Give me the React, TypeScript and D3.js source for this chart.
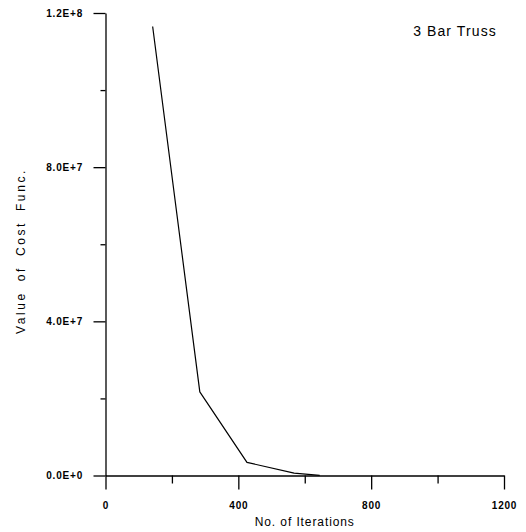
import React, { useEffect, useRef } from 'react';
import * as d3 from 'd3';

const iterations = [142, 284, 426, 568, 645];
const costValues = [1.165e8, 2.17e7, 3.4e6, 6e5, 5e4];

const xMajorTicks = [0, 400, 800, 1200];
const xMinorTicks = [200, 600, 1000];
const yMajorTicks = [0, 4e7, 8e7, 1.2e8];
const yMinorTicks = [2e7, 6e7, 1e8];
const yTickLabels = ['0.0E+0', '4.0E+7', '8.0E+7', '1.2E+8'];

const title = '3 Bar Truss';
const xTitle = 'No. of Iterations';
const yTitle = 'Value of Cost Func.';

const W = 526;
const H = 532;
const plot = { left: 105.5, right: 504, top: 13, bottom: 475.5 };

export default function App() {
  const ref = useRef<SVGSVGElement>(null);

  useEffect(() => {
    const svg = d3.select(ref.current);
    svg.selectAll('*').remove();

    const x = d3.scaleLinear().domain([0, 1200]).range([plot.left, plot.right]);
    const y = d3.scaleLinear().domain([0, 1.2e8]).range([plot.bottom, plot.top]);

    const tickFont = (g: any) =>
      g.selectAll('text')
        .attr('font-family', 'Arial, "Liberation Sans", sans-serif')
        .attr('font-size', 10)
        .attr('font-weight', 'bold')
        .attr('letter-spacing', 0.8)
        .attr('fill', '#000');

    // minor ticks first, no labels
    svg.append('g')
      .attr('transform', `translate(0,${plot.bottom})`)
      .call(d3.axisBottom(x).tickValues(xMinorTicks).tickSize(8).tickFormat(() => ''))
      .call((g: any) => g.select('.domain').remove());
    svg.append('g')
      .attr('transform', `translate(${plot.left},0)`)
      .call(d3.axisLeft(y).tickValues(yMinorTicks).tickSize(5).tickFormat(() => ''))
      .call((g: any) => g.select('.domain').remove());

    const xAxis = svg.append('g')
      .attr('transform', `translate(0,${plot.bottom})`)
      .call(d3.axisBottom(x).tickValues(xMajorTicks).tickSize(14).tickSizeOuter(0).tickPadding(12)
        .tickFormat((d: any) => String(d)));
    tickFont(xAxis);

    const yAxis = svg.append('g')
      .attr('transform', `translate(${plot.left},0)`)
      .call(d3.axisLeft(y).tickValues(yMajorTicks).tickSize(12).tickSizeOuter(0).tickPadding(10.5)
        .tickFormat((d: any, i: number) => yTickLabels[i]));
    tickFont(yAxis);

    svg.selectAll('.domain, .tick line')
      .attr('stroke', '#000')
      .attr('stroke-width', 1.3);

    const pts = iterations.map((it, i) => [it, costValues[i]] as [number, number]);
    const line = d3.line<[number, number]>()
      .x(d => x(d[0]))
      .y(d => y(d[1]));

    svg.append('path')
      .datum(pts)
      .attr('d', line)
      .attr('fill', 'none')
      .attr('stroke', '#000')
      .attr('stroke-width', 1.2)
      .attr('stroke-linejoin', 'round');

    svg.append('text')
      .attr('x', 455)
      .attr('y', 36)
      .attr('text-anchor', 'middle')
      .attr('font-family', 'Arial, "Liberation Sans", sans-serif')
      .attr('font-size', 14)
      .attr('letter-spacing', 1.1)
      .text(title);

    svg.append('text')
      .attr('x', (plot.left + plot.right) / 2)
      .attr('y', 526)
      .attr('text-anchor', 'middle')
      .attr('font-family', 'Arial, "Liberation Sans", sans-serif')
      .attr('font-size', 12)
      .attr('letter-spacing', 0.9)
      .text(xTitle);

    svg.append('text')
      .attr('transform', `translate(25,251) rotate(-90)`)
      .attr('text-anchor', 'middle')
      .attr('font-family', 'Arial, "Liberation Sans", sans-serif')
      .attr('font-size', 12)
      .attr('letter-spacing', 2.6)
      .attr('word-spacing', 4)
      .text(yTitle);
  }, []);

  return (
    <svg
      ref={ref}
      width={W}
      height={H}
      style={{ position: 'absolute', left: 0, top: 0, background: '#fff' }}
    />
  );
}
